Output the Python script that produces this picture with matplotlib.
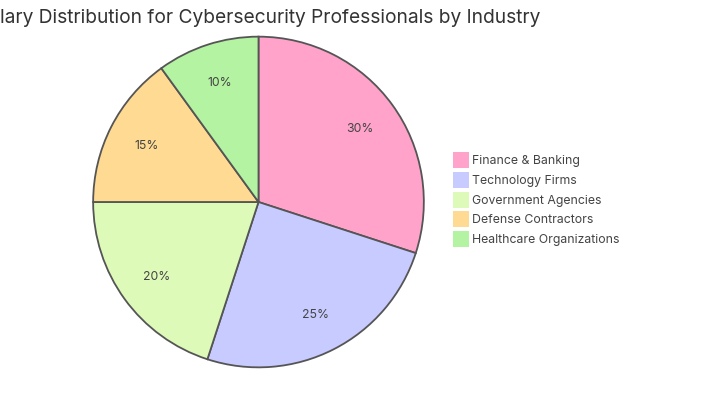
import matplotlib.pyplot as plt
from matplotlib.patches import Rectangle

plt.rcParams['font.family'] = ['Inter', 'DejaVu Sans']

title = 'Salary Distribution for Cybersecurity Professionals by Industry'
industries = ['Finance & Banking', 'Technology Firms', 'Government Agencies',
              'Defense Contractors', 'Healthcare Organizations']
shares = [30, 25, 20, 15, 10]
colors = ['#FFA3CB', '#C8CBFF', '#DDFAB8', '#FFDA92', '#B3F3A2']

W, H = 720, 406
fig = plt.figure(figsize=(W / 100, H / 100), dpi=100)
fig.patch.set_facecolor('white')

# pie axes: centre ~ (258.5, 203) px, radius ~167 px
r = 167
cx, cy = 258.5, 203
ax = fig.add_axes([(cx - r) / W, (H - cy - r) / H, 2 * r / W, 2 * r / H])
wedges, texts, autotexts = ax.pie(
    shares, colors=colors, startangle=90, counterclock=False,
    autopct='%d%%', pctdistance=0.76, radius=1,
    wedgeprops=dict(edgecolor='#555555', linewidth=1.3),
    textprops=dict(fontsize=8.8, color='#444444'))
ax.set_xlim(-1.01, 1.01)
ax.set_ylim(-1.01, 1.01)
ax.set_aspect('equal')
ax.axis('off')

fig.text(540 / W, 1 - 23 / H, title, ha='right', va='baseline',
         fontsize=13.8, color='#333333')

# legend
for i, (name, col) in enumerate(zip(industries, colors)):
    yc = 161 + i * 19.8
    fig.patches.append(Rectangle((453 / W, 1 - (yc + 8) / H), 16 / W, 16 / H,
                                 transform=fig.transFigure, facecolor=col,
                                 edgecolor='none'))
    fig.text(472 / W, 1 - yc / H, name, ha='left', va='center',
             fontsize=8.85, color='#444444')

fig.savefig('out.png', dpi=100, facecolor='white')
